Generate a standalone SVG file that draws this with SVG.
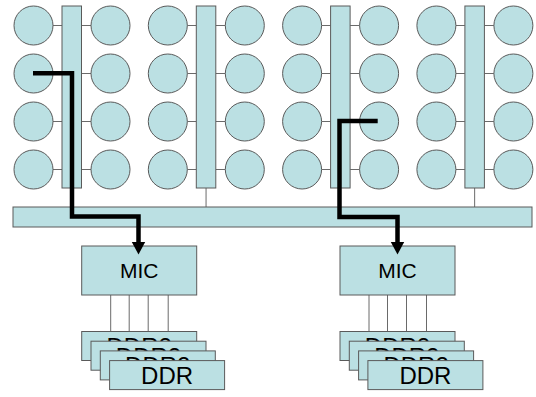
<svg xmlns="http://www.w3.org/2000/svg" width="536" height="397" viewBox="0 0 536 397">
<style>
.n{fill:#BBE0E3;stroke:#5a5a5a;stroke-width:1}
.c{stroke:#6a6a6a;stroke-width:1;fill:none}
.p{stroke:#000;stroke-width:4.5;fill:none;stroke-linejoin:miter}
.t{font-family:"Liberation Sans",Arial,sans-serif;fill:#000;text-anchor:middle}
</style>
<defs>
<g id="grp">
<line class="c" x1="53" y1="25.5" x2="62" y2="25.5"/>
<line class="c" x1="53" y1="73.5" x2="62" y2="73.5"/>
<line class="c" x1="53" y1="121.5" x2="62" y2="121.5"/>
<line class="c" x1="53" y1="169.5" x2="62" y2="169.5"/>
<line class="c" x1="81.5" y1="25.5" x2="91" y2="25.5"/>
<line class="c" x1="81.5" y1="73.5" x2="91" y2="73.5"/>
<line class="c" x1="81.5" y1="121.5" x2="91" y2="121.5"/>
<line class="c" x1="81.5" y1="169.5" x2="91" y2="169.5"/>
<line class="c" x1="71.75" y1="188" x2="71.75" y2="207"/>
<circle class="n" cx="33.5" cy="25.5" r="19.5"/>
<circle class="n" cx="33.5" cy="73.5" r="19.5"/>
<circle class="n" cx="33.5" cy="121.5" r="19.5"/>
<circle class="n" cx="33.5" cy="169.5" r="19.5"/>
<rect class="n" x="62" y="6" width="19.5" height="182"/>
<circle class="n" cx="110.5" cy="25.5" r="19.5"/>
<circle class="n" cx="110.5" cy="73.5" r="19.5"/>
<circle class="n" cx="110.5" cy="121.5" r="19.5"/>
<circle class="n" cx="110.5" cy="169.5" r="19.5"/>
</g>
<g id="mem">
<line class="c" x1="29" y1="49" x2="29" y2="85.5"/>
<line class="c" x1="47.5" y1="49" x2="47.5" y2="85.5"/>
<line class="c" x1="66.5" y1="49" x2="66.5" y2="85.5"/>
<line class="c" x1="86.5" y1="49" x2="86.5" y2="85.5"/>
<rect class="n" x="0" y="0" width="115" height="49"/>
<text class="t" x="57.5" y="31.8" font-size="21">MIC</text>
<rect class="n" x="0" y="85.5" width="115" height="29"/>
<text class="t" x="57.5" y="109" font-size="24">DDR2</text>
<rect class="n" x="9.3" y="95.2" width="115" height="29"/>
<text class="t" x="66.8" y="118.7" font-size="24">DDR2</text>
<rect class="n" x="18.6" y="104.9" width="115" height="29"/>
<text class="t" x="76.1" y="128.4" font-size="24">DDR2</text>
<rect class="n" x="27.9" y="114.6" width="115" height="29"/>
<text class="t" x="85.4" y="138.1" font-size="24">DDR</text>
</g>
</defs>
<g id="cluster1"><use href="#grp"/></g>
<g id="cluster2"><use href="#grp" transform="translate(134.3,0)"/></g>
<g id="cluster3"><use href="#grp" transform="translate(268.6,0)"/></g>
<g id="cluster4"><use href="#grp" transform="translate(402.9,0)"/></g>
<g id="bus"><rect class="n" x="13" y="207" width="519" height="20"/></g>
<g id="mic1"><use href="#mem" transform="translate(81.7,246)"/></g>
<g id="mic2"><use href="#mem" transform="translate(340,246)"/></g>
<g id="connectors">
<path class="p" d="M33,73.3 H72 V216.5 H138.5 V243"/>
<polygon points="131.8,242 145.2,242 138.5,254.5" fill="#000"/>
<path class="p" d="M377.7,121 H339.5 V217 H397.5 V243"/>
<polygon points="390.8,242 404.2,242 397.5,254.5" fill="#000"/>
</g>
</svg>
